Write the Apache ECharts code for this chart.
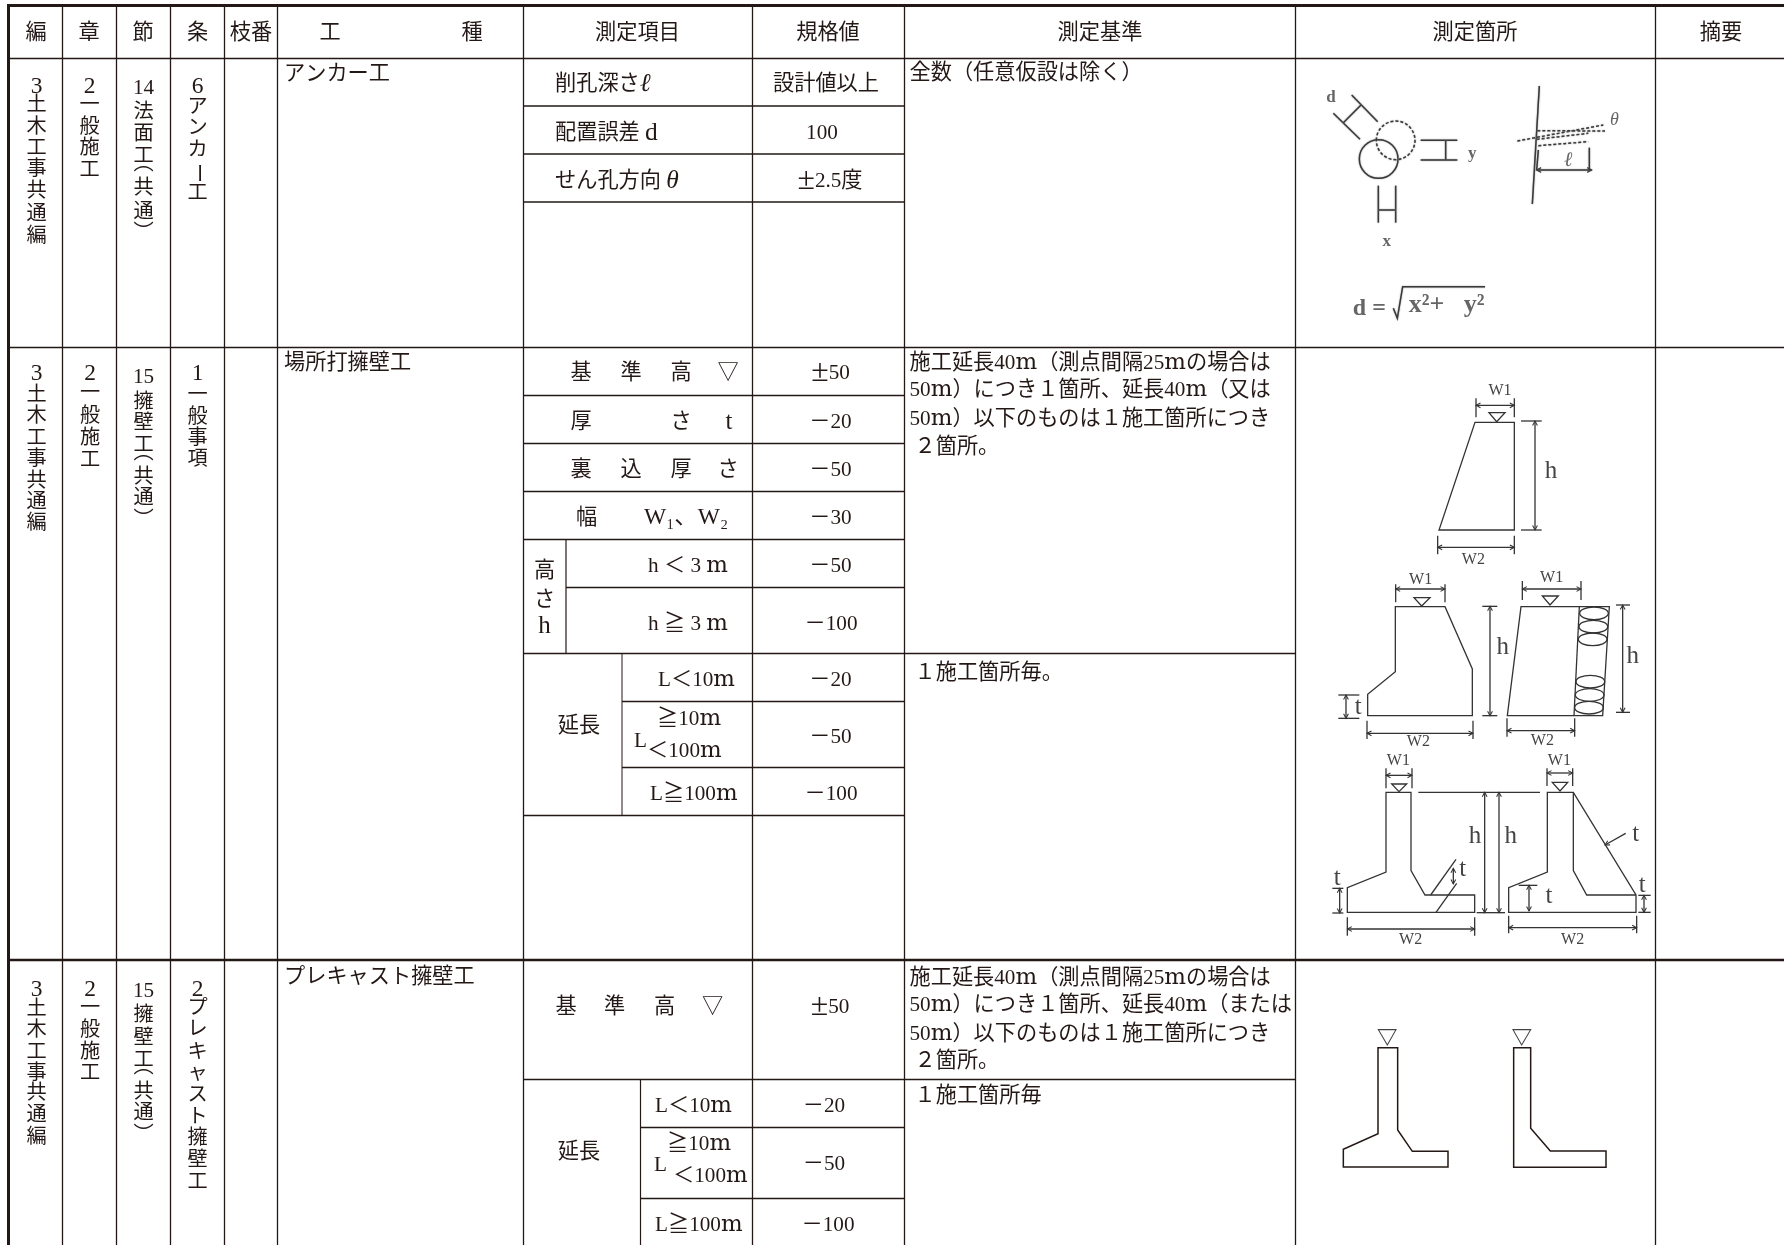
<!DOCTYPE html>
<html><head><meta charset="utf-8">
<style>html,body{margin:0;padding:0;background:#fff}#c{width:1784px;height:1245px}</style>
<script src="https://cdn.jsdelivr.net/npm/echarts@6/dist/echarts.min.js"></script>
</head><body><div id="c"></div>
<script>
// ---------- table content ----------
const headerLabels = ['編','章','節','条','枝番','工','種','測定項目','規格値','測定基準','測定箇所','摘要'];
const workTypes = ['アンカー工','場所打擁壁工','プレキャスト擁壁工'];
const volumeChars = ['3','土','木','工','事','共','通','編'];
const chapterChars = ['2','一','般','施','工'];
const sectionAnchor = ['14','法','面','工','︵','共','通','︶'];
const sectionWall = ['15','擁','壁','工','︵','共','通','︶'];
const clauseAnchor = ['6','ア','ン','カ','ー','工'];
const clauseCast = ['1','一','般','事','項'];
const clausePrecast = ['2','プ','レ','キ','ャ','ス','ト','擁','壁','工'];
const anchorItems = ['削孔深さℓ','配置誤差 d','せん孔方向 θ'];
const anchorSpecs = ['設計値以上','100','±2.5度'];
const datumTokens = ['基','準','高','▽'];
const thicknessTokens = ['厚','さ','t'];
const backfillTokens = ['裏','込','厚','さ'];
const widthTokens = ['幅','W₁、W₂'];
const heightTokens = ['高','さ','h'];
const heightItems = ['h ＜ 3 m','h ≧ 3 m'];
const castSpecs = ['±50','－20','－50','－30','－50','－100','－20','－50','－100'];
const lengthLabel = '延長';
const lengthTokens = ['L＜10m','≧10m','L','＜100m','L≧100m'];
const precastSpecs = ['±50','－20','－50','－100'];
const anchorBasis = ['全数（任意仮設は除く）'];
const castBasis = ['施工延長40m（測点間隔25mの場合は','50m）につき１箇所、延長40m（又は','50m）以下のものは１施工箇所につき','２箇所。','１施工箇所毎。'];
const precastBasis = ['施工延長40m（測点間隔25mの場合は','50m）につき１箇所、延長40m（または','50m）以下のものは１施工箇所につき','２箇所。','１施工箇所毎'];

// ---------- layout ----------
const INK = '#231815', FS = 21.2, NUM = 23.5, TALL = 25, COLUMN = 20.2;
const FONT = "'Liberation Serif','Noto Sans CJK JP',serif";
const texts = [], strokes = [], rounds = [];
function put(tokens, xs, ys, align, o) {
  [].concat(tokens).forEach((t, i) => {
    const size = (o && o.size) || (/^\d$/.test(t) ? NUM : (t==='t'||t==='h') ? TALL : FS);
    texts.push(Object.assign({
      t, x: Array.isArray(xs) ? xs[i] : xs, y: Array.isArray(ys) ? ys[i] : ys,
      align: align || 'center', color: INK, weight: 'normal'
    }, o || {}, {size}));
  });
}
function col(tokens, x, ys) {
  tokens.forEach((t, i) => put(t, x, ys[i], 'center', /\d/.test(t) ? {} : {size:COLUMN}));
}
put(headerLabels, [36,89,143,197.5,251,330,472,637.5,828,1100,1475,1721], 32.5);

col(volumeChars, 36.5, [86,105,127,148,169,191,214,236]);
col(chapterChars, 89.5, [86,105,127,148,170]);
col(sectionAnchor, 143.5, [87,112,134,156,164,188,212,233]);
col(clauseAnchor, 197.5, [86,107,128,150,172,193]);
col(volumeChars, 36.5, [373,395,416,438,459,481,502,523]);
col(chapterChars, 90, [373,393,416,438,460]);
col(sectionWall, 143.5, [376,402,423,445,453,477,498,520]);
col(clauseCast, 197.5, [373,395,417,438,459]);
col(volumeChars, 36.5, [989,1009,1030,1052,1073,1093,1115,1137]);
col(chapterChars, 90, [989,1008,1030,1052,1073]);
col(sectionWall, 143.5, [990,1015,1038,1060,1067,1092,1113,1135]);
col(clausePrecast, 197.5, [989,1008,1029,1052,1073,1095,1117,1138,1160,1182]);

put(workTypes, 284, [73,362,976], 'left');
put(anchorItems, 555, [83,132,180], 'left');
put(anchorSpecs, [826,822,830], [83,132,180]);
put(datumTokens, [581,631,681,728], 372);
put(thicknessTokens, [581,681,729], 421);
put(backfillTokens, [581,631,681,728], 469);
put(widthTokens[0], 586.5, 517);
put(widthTokens[1], 644, 517, 'left', {size:23.5});
put(heightTokens, 544.5, [570,599,625]);
put(heightItems, 648, [565,623], 'left');
put(castSpecs, [830.5,830.5,830.5,830.5,830.5,831,830.5,830.5,831], [372,421,469,517,565,623,679,736,793]);
put(lengthLabel, 579, 725);
put(lengthTokens, [658,657,634,647,650], [679,718,740,750,793], 'left');
put(datumTokens, [566,614.5,664.5,712.5], 1006);
put(precastSpecs, [830,824,824,828], [1006,1105,1163,1224]);
put(lengthLabel, 579, 1151);
put(lengthTokens, [655,667,654,673,655], [1105,1143,1164,1175,1224], 'left');
put(anchorBasis, 909.5, 72.7, 'left');
put(castBasis, [909.5,909.5,909.5,914.5,914.5], [362,389,418,446,672], 'left');
put(precastBasis, [909.5,909.5,909.5,914.5,914.5], [977,1004,1033,1060,1095], 'left');

// table rules
function rule(x1,y1,x2,y2,w){ strokes.push({pts:[[x1,y1],[x2,y2]], w:w||1.4, color:INK}); }
[62.5,116.5,170.5,224.5,277.5,523.5,752.5,904.5,1295.5,1655.5].forEach(x=>rule(x,6,x,1245,1.3));
rule(8.5,4.5,8.5,1245,3); rule(7,5.5,1784,5.5,3);
rule(8,58.5,1784,58.5); rule(8,347.5,1784,347.5,1.5); rule(8,960,1784,960,2.6);
[106,154,202,395.5,443.5,491.5,539.5,815.5].forEach(y=>rule(523.5,y,904.5,y));
rule(566,587.5,904.5,587.5); rule(523.5,653.5,1295.5,653.5);
[701.5,767.5].forEach(y=>rule(622,y,904.5,y));
rule(523.5,1079.5,1295.5,1079.5);
[1127.5,1198.5].forEach(y=>rule(640.5,y,904.5,y));
rule(566,539.5,566,653.5,1.2); rule(622,653.5,622,815.5,1); rule(640.5,1079.5,640.5,1245,1.2);

// ---------- sketches, in crop units (3 units per px) ----------
function sketch(ox, oy, s) {
  const U = p => [ox + p[0]/3, oy + p[1]/3];
  const st = s.style;
  (s.closed||[]).forEach(p => strokes.push({pts:p.map(U), closed:true, w:st.w, color:st.color, blur:st.blur}));
  (s.open||[]).forEach(p => strokes.push({pts:p.map(U), w:st.w, color:st.color, blur:st.blur}));
  (s.dashed||[]).forEach(p => strokes.push({pts:p.map(U), w:st.w, color:st.color, dash:[3,2], blur:st.blur}));
  (s.arrows||[]).forEach(a => {
    const [x1,y1] = U(a[0]), [x2,y2] = U(a[1]);
    const L = Math.hypot(x2-x1,y2-y1), ux=(x2-x1)/L, uy=(y2-y1)/L, h=4.5, k=2.4;
    strokes.push({pts:[[x1,y1],[x2,y2]], w:st.w, color:st.color, blur:st.blur});
    strokes.push({pts:[[x1+ux*h-uy*k,y1+uy*h+ux*k],[x1,y1],[x1+ux*h+uy*k,y1+uy*h-ux*k]], w:st.w*.8, color:st.color});
    if (!a[2]) strokes.push({pts:[[x2-ux*h-uy*k,y2-uy*h+ux*k],[x2,y2],[x2-ux*h+uy*k,y2-uy*h-ux*k]], w:st.w*.8, color:st.color});
  });
  (s.rounds||[]).forEach(r => { const c=U(r); rounds.push({cx:c[0],cy:c[1],rx:r[2]/3,ry:r[3]/3,w:st.w,color:st.color,dash:r[4]?[3,2]:null,blur:st.blur}); });
  (s.labels||[]).forEach(l => { const c=U(l); put(l[2], c[0], c[1], 'center', {size:l[3], color:st.label, weight:l[4]||'normal'}); });
}
// anchor sketch
sketch(1280,0,{ style:{w:1.5,color:'#3a3a3a',label:'#666',blur:1.5},
  rounds:[[296,477,58,58],[347,421,58,58,1]],
  open:[[[215,285],[293,365]],[[160,340],[240,418]],[[190,368],[243,315]],
    [[422,421],[532,421]],[[422,480],[532,480]],[[497,421],[497,480]],
    [[295,557],[295,668]],[[347,557],[347,668]],[[295,630],[347,630]],
    [[778,258],[757,612]],[[775,450],[770,510]],[[928,443],[928,510]],
    [[340,925],[352,955],[368,860],[615,860]]],
  dashed:[[[712,423],[970,375]],[[772,392],[975,393]],[[770,418],[925,400]],[[775,437],[925,425]]],
  arrows:[[[770,510],[935,510]]],
  labels:[[153,290,'d',17,'bold'],[577,457,'y',17,'bold'],[320,723,'x',17,'bold'],[1003,357,'θ',15,'bold'],[865,480,'ℓ',17,'bold'],
    [268,922,'d =',24,'bold'],[500,912,'x²+   y²',26,'bold']]
});
// cast wall sketches, upper
sketch(1290,360,{ style:{w:1.3,color:'#333',label:'#444'},
  closed:[[[555,187],[673,187],[673,510],[447,510]],[[597,158],[645,158],[620,185]],
    [[316,740],[465,740],[547,927],[547,1067],[233,1067],[233,1003],[316,935]],[[372,713],[420,713],[395,738]],
    [[693,740],[958,740],[938,1067],[652,1067]],[[757,708],[805,708],[780,735]]],
  open:[[[558,115],[558,172]],[[673,115],[673,172]],[[693,183],[755,183]],[[693,510],[755,510]],[[443,527],[443,583]],[[673,527],[673,583]],
    [[317,673],[317,727]],[[465,673],[465,727]],[[577,739],[622,739]],[[577,1067],[622,1067]],[[145,1005],[208,1005]],[[145,1075],[208,1075]],[[231,1082],[231,1137]],[[549,1082],[549,1137]],
    [[868,740],[852,1067]],[[697,663],[697,720]],[[873,663],[873,720]],[[978,735],[1020,735]],[[978,1057],[1020,1057]],[[651,1075],[651,1130]],[[854,1075],[854,1130]]],
  arrows:[[[558,136],[673,136]],[[735,183],[735,510]],[[443,562],[673,562]],[[317,687],[465,687]],[[600,739],[600,1067]],[[168,1005],[168,1075]],[[231,1120],[549,1120]],[[697,687],[873,687]],[[998,735],[998,1057]],[[651,1112],[854,1112]]],
  rounds:[[912,760,43,19],[910,800,43,19],[908,838,43,19],[901,965,43,19],[899,1005,43,19],[897,1043,43,19]],
  labels:[[630,90,'W1',16],[783,330,'h',25],[550,595,'W2',16],[392,655,'W1',16],[638,858,'h',25],[205,1040,'t',25],[385,1143,'W2',16],[785,650,'W1',16],[1028,885,'h',25],[757,1140,'W2',16]]
});
// cast wall sketches, lower
sketch(1290,730,{ style:{w:1.3,color:'#333',label:'#444'},
  closed:[[[288,187],[363,187],[363,422],[405,495],[554,495],[554,547],[172,547],[172,473],[288,426]],[[305,162],[350,162],[327,185]],
    [[772,187],[850,187],[1038,495],[1038,547],[656,547],[656,473],[772,426]],[[787,157],[833,157],[810,183]]],
  open:[[[288,115],[288,175]],[[366,115],[366,175]],[[127,475],[160,475]],[[127,549],[160,549]],[[422,495],[498,388]],[[438,547],[500,460]],
    [[172,562],[172,617]],[[554,562],[554,617]],[[385,187],[750,187]],[[560,548],[645,548]],
    [[850,187],[850,422],[890,495],[1038,495]],[[771,115],[771,168]],[[848,115],[848,168]],[[686,466],[742,466]],[[1045,496],[1082,496]],[[1045,547],[1082,547]],[[656,557],[656,610]],[[1040,557],[1040,610]]],
  arrows:[[[288,136],[366,136]],[[149,475],[149,549]],[[490,415],[490,462]],[[172,597],[554,597]],[[584,187],[584,548]],[[627,187],[627,548]],
    [[771,129],[848,129]],[[717,466],[717,543]],[[945,345],[1007,310],1],[[1062,496],[1062,547]],[[656,593],[1040,593]]],
  labels:[[325,90,'W1',16],[142,443,'t',25],[518,415,'t',25],[362,625,'W2',16],[555,315,'h',25],[662,315,'h',25],
    [808,90,'W1',16],[777,497,'t',25],[1037,310,'t',25],[1057,462,'t',25],[848,625,'W2',16]]
});
// precast wall sketches
sketch(1290,950,{ style:{w:1.5,color:'#231815',label:'#231815'},
  closed:[[[264,293],[323,293],[323,540],[367,604],[474,604],[474,651],[160,651],[160,598],[264,551]],
    [[671,293],[722,293],[722,535],[781,603],[948,603],[948,652],[671,652]]]
});
sketch(1290,950,{ style:{w:1.1,color:'#444'},
  closed:[[[265,239],[318,239],[292,285]],[[669,239],[722,239],[695,285]]]
});

// ---------- chart ----------
function richText(t){
  return t.replace(/m/g,'{m|m}').replace(/±/g,'{p|±}').replace(/([ℓθ])/g,'{g|$1}').replace(/ d$/,' {d|d}');
}
function richStyles(t){
  const base = {fill:t.color};
  return {
    m:Object.assign({},base,{fontFamily:"'DejaVu Serif'",fontSize:t.size*1.08}),
    p:Object.assign({},base,{fontFamily:"'Liberation Serif'",fontSize:t.size*1.5}),
    g:Object.assign({},base,{fontFamily:"'Liberation Serif'",fontSize:t.size*1.2,fontStyle:'italic'}),
    d:Object.assign({},base,{fontFamily:"'Liberation Serif'",fontSize:t.size*1.2})
  };
}
const chart = echarts.init(document.getElementById('c'), null, {renderer:'canvas'});
chart.setOption({
  animation:false, backgroundColor:'#fff',
  grid:{left:0,right:0,top:0,bottom:0},
  xAxis:{type:'value',min:0,max:1784,show:false},
  yAxis:{type:'value',min:0,max:1245,inverse:true,show:false},
  tooltip:{show:false},
  series:[
    {type:'custom',coordinateSystem:'cartesian2d',silent:true,clip:false,
     data:strokes.map(s=>[s.pts[0][0],s.pts[0][1]]),
     renderItem(p,api){ const s=strokes[p.dataIndex];
       return {type:s.closed?'polygon':'polyline',shape:{points:s.pts.map(q=>api.coord(q))},
         style:{fill:'none',stroke:s.color,lineWidth:s.w,lineDash:s.dash||null,shadowBlur:s.blur||0,shadowColor:s.blur?'#888':'transparent'}};
     }},
    {type:'custom',coordinateSystem:'cartesian2d',silent:true,clip:false,
     data:rounds.map(r=>[r.cx,r.cy]),
     renderItem(p,api){ const r=rounds[p.dataIndex], c=api.coord([r.cx,r.cy]);
       return {type:'ellipse',shape:{cx:c[0],cy:c[1],rx:r.rx,ry:r.ry},
         style:{fill:'none',stroke:r.color,lineWidth:r.w,lineDash:r.dash||null,shadowBlur:r.blur||0,shadowColor:r.blur?'#888':'transparent'}};
     }},
    {type:'custom',coordinateSystem:'cartesian2d',silent:true,clip:false,
     data:texts.map(t=>[t.x,t.y]),
     renderItem(p,api){ const t=texts[p.dataIndex], c=api.coord([t.x,t.y+1]);
       const spin = t.t==='ー';
       return {type:'text',x:c[0],y:c[1],rotation:spin?-Math.PI/2:0,
         style:{text:richText(t.t),x:0,y:0,align:t.align,verticalAlign:'middle',
           font:`${t.weight} ${t.size}px ${FONT}`,fill:t.color,rich:richStyles(t)}};
     }}
  ]
});
</script></body></html>
